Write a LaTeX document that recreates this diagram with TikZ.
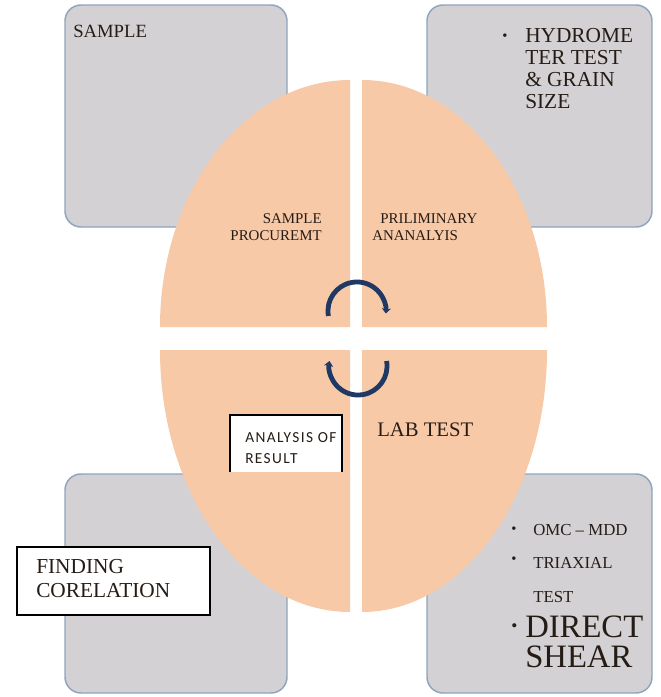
\documentclass[tikz,border=0pt]{standalone}
\usepackage{fontspec}
\setmainfont{Liberation Serif}
\newfontfamily\calfont[LetterSpace=9]{Carlito}
\usetikzlibrary{arrows.meta}
\definecolor{boxgray}{RGB}{211,209,212}
\definecolor{boxline}{RGB}{143,164,189}
\definecolor{peach}{RGB}{247,201,167}
\definecolor{navy}{RGB}{31,56,100}
\definecolor{ink}{RGB}{38,28,22}

\tikzset{
  panel/.style={fill=boxgray, draw=boxline, line width=1.1pt, rounded corners=12pt},
  quad/.style={fill=peach},
  turn/.style={draw=navy, line width=3.6pt, -{Stealth[length=4pt,width=7pt]}},
  lbl/.style={inner sep=0pt, anchor=base west, text=ink, align=left},
  dot/.style={inner sep=0pt, anchor=base west, text=ink},
}

\begin{document}
\begin{tikzpicture}[x=0.75pt,y=-0.75pt]
      \useasboundingbox (0,0) rectangle (661,697);
      % corner panels
      \draw[panel] (65,5) rectangle (287,227);
      \draw[panel] (427,5) rectangle (652,227);
      \draw[panel] (65,474) rectangle (287,693);
      \draw[panel] (427,474) rectangle (652,693);
      % four quarters of the oval
      \fill[quad] (350,327) -- (160,327) arc[start angle=180, end angle=270, x radius=190, y radius=247] -- cycle;
      \fill[quad] (362,327) -- (362,80) arc[start angle=270, end angle=360, x radius=185, y radius=247] -- cycle;
      \fill[quad] (362,350) -- (547,350) arc[start angle=0, end angle=90, x radius=185, y radius=262] -- cycle;
      \fill[quad] (350,350) -- (350,612) arc[start angle=90, end angle=180, x radius=190, y radius=262] -- cycle;
      % turning arrows
      \draw[turn] (328.4,316) arc[start angle=170, end angle=365, radius=29];
      \draw[turn] (386.6,361) arc[start angle=-10, end angle=190, radius=29];
      % boxes with text
      \fill[white] (230,415) rectangle (342,472);
      \draw[line width=1.1pt] (230,472) -- (230,415) -- (342,415) -- (342,472);
      \draw[fill=white, line width=1.1pt] (17,547) rectangle (210,615);
      % texts (base of a multi-line label is its last line)
      \node[lbl, font=\fontsize{14}{16}\selectfont] (sample) at (73,37) {SAMPLE};
      \node[dot, font=\fontsize{11}{12}\selectfont] (hbul) at (502,40) {\textbullet};
      \node[lbl, font=\fontsize{16}{16.3}\selectfont] (hydro) at (525,108) {HYDROME\\TER TEST\\\& GRAIN\\SIZE};
      \node[inner sep=0pt, anchor=base east, text=ink, align=right, font=\fontsize{11.2}{12.75}\selectfont] (procure) at (322,240) {SAMPLE\\PROCUREMT};
      \node[lbl, font=\fontsize{11.2}{12.75}\selectfont] (prelim) at (372,240) {\hspace*{6pt}PRILIMINARY\\ANANALYIS};
      \node[lbl, font=\fontsize{15.5}{17}\selectfont] (labtest) at (377,436) {LAB TEST};
      \node[lbl, font=\calfont\fontsize{11.5}{15.75}\selectfont] (result) at (245,463) {ANALYSIS OF\\RESULT};
      \node[lbl, font=\fontsize{16}{18}\selectfont] (corel) at (36,597) {FINDING\\CORELATION};
      \node[dot, font=\fontsize{11}{12}\selectfont] (obul) at (511,533) {\textbullet};
      \node[lbl, font=\fontsize{12.6}{14}\selectfont] (omc) at (533,535) {OMC -- MDD};
      \node[dot, font=\fontsize{11}{12}\selectfont] (tbul) at (511,563) {\textbullet};
      \node[lbl, font=\fontsize{12.6}{25.5}\selectfont] (triax) at (533,602) {TRIAXIAL\\TEST};
      \node[dot, font=\fontsize{13}{13}\selectfont] (dbul) at (511,631) {\textbullet};
      \node[lbl, font=\fontsize{24.5}{22.5}\selectfont] (shear) at (525,667) {DIRECT\\SHEAR};
    \end{tikzpicture}
\end{document}
